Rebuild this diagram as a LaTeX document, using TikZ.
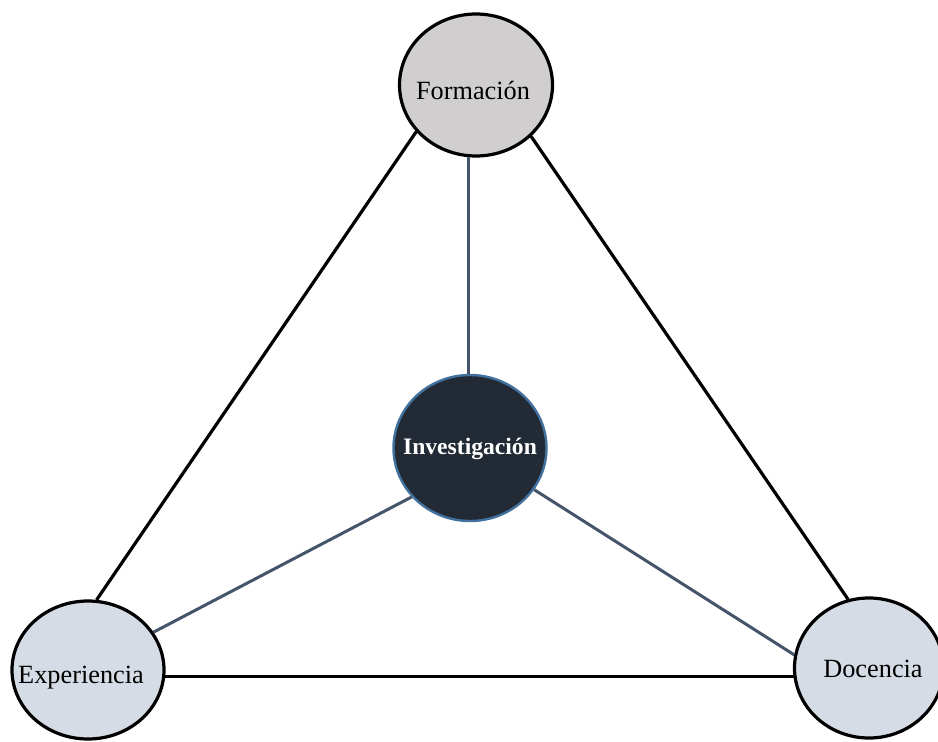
\documentclass[tikz,border=0pt]{standalone}
\usepackage{fontspec}
\setmainfont{Liberation Serif}
\usetikzlibrary{shapes.geometric}
\definecolor{fgray}{HTML}{D0CECE}
\definecolor{lblue}{HTML}{D6DCE5}
\definecolor{dnavy}{HTML}{222A35}
\definecolor{bblue}{HTML}{41719C}
\definecolor{slate}{HTML}{44546A}
\begin{document}
\begin{tikzpicture}[x=1pt,y=-1pt,
  circ/.style={ellipse, draw=black, line width=3.2pt, inner sep=0pt},
  lab/.style={font=\fontsize{26.3}{30}\selectfont, inner sep=0pt},
  blab/.style={font=\fontsize{23.6}{28}\selectfont\bfseries, text=white, inner sep=0pt},
  blk/.style={draw=black, line width=3.2pt},
  sl/.style={draw=slate, line width=3pt}]
\path[use as bounding box] (0,0) rectangle (938,742);
\node[circ, fill=fgray, minimum width=153, minimum height=142,
  label={[lab, yshift=-5pt, xshift=-3pt]center:Formación}] (f) at (476,85) {};
\node[circ, fill=dnavy, draw=bblue, line width=2.4pt, minimum width=153, minimum height=146,
  label={[blab, yshift=-1pt]center:Investigación}] (i) at (470,448) {};
\node[circ, fill=lblue, minimum width=152, minimum height=138,
  label={[lab, yshift=-8pt, xshift=-7pt]center:Experiencia}] (e) at (88,670) {};
\node[circ, fill=lblue, minimum width=149, minimum height=140,
  label={[lab, yshift=-1pt, xshift=4pt]center:Docencia}] (d) at (869,668) {};
\draw[blk] (f.218) -- (e.83);
\draw[blk] (f.317) -- (d.107);
\draw[blk] (e.-5) -- (d.187 |- e.-5);
\draw[sl] (f.264) -- (f.264 |- i.north);
\draw[sl] (i.220) -- (e.30);
\draw[sl] (i.327) -- (d.170);
\end{tikzpicture}
\end{document}
